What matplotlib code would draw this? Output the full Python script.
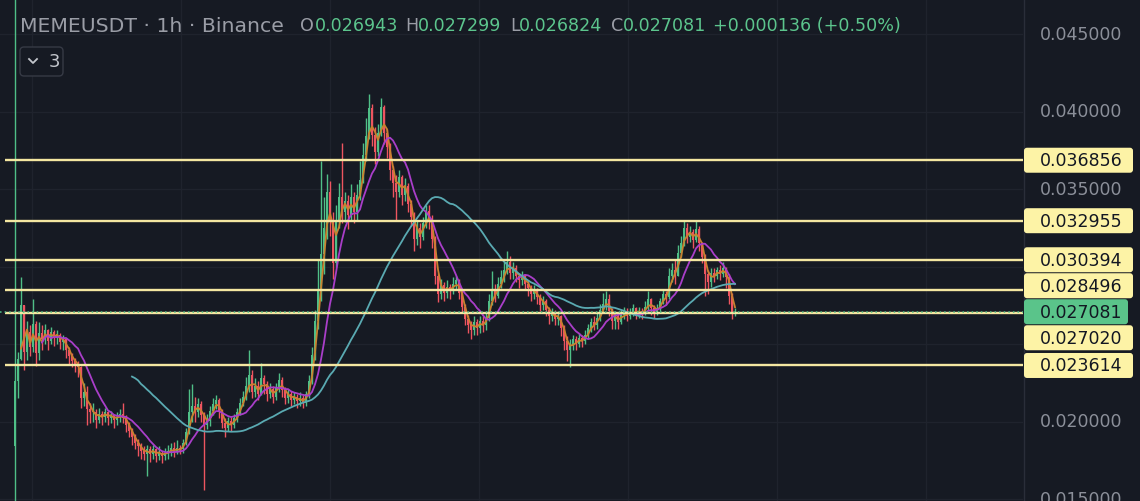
import numpy as np
import pandas as pd
import matplotlib
matplotlib.use("Agg")
import matplotlib.pyplot as plt
from matplotlib.patches import FancyBboxPatch
from matplotlib.lines import Line2D
from matplotlib.transforms import IdentityTransform

# -----------------------
# Data (prices in 0.001 USDT, one value per 1h candle)
# -----------------------
first_open = 18.4

close_m = [
    22.6, 24.0, 27.5, 24.5, 25.8, 24.8, 26.3, 24.4, 25.7, 25.3,
    25.9, 25.2, 25.8, 25.4, 25.6, 25.1, 25.3, 24.6, 24.2, 23.9,
    23.7, 23.5, 21.5, 21.9, 20.8, 20.6, 20.6, 20.1, 20.5, 20.3,
    20.6, 20.2, 20.4, 20.1, 20.3, 20.5, 20.2, 19.8, 19.4, 19.0,
    18.6, 18.4, 18.1, 17.9, 18.2, 17.9, 18.2, 17.8, 18.0, 17.8,
    18.0, 18.1, 18.3, 18.0, 18.3, 18.2, 18.6, 19.3, 20.6, 21.0,
    20.6, 21.1, 20.4, 19.8, 20.0, 20.7, 21.1, 21.4, 20.6, 19.9,
    19.6, 20.0, 19.8, 20.2, 20.6, 21.2, 21.6, 22.3, 23.0, 21.9,
    22.3, 21.8, 22.8, 22.4, 21.8, 22.1, 21.6, 22.2, 22.7, 22.0,
    21.5, 21.8, 21.4, 21.6, 21.3, 21.5, 21.2, 21.8, 22.6, 24.3,
    26.5, 28.4, 30.8, 32.5, 34.8, 33.0, 30.2, 32.9, 34.5, 33.5,
    34.2, 33.3, 34.5, 33.5, 34.6, 35.6, 37.2, 38.4, 40.2, 38.5,
    37.4, 38.6, 40.3, 38.6, 37.7, 36.2, 35.4, 34.8, 35.8, 34.6,
    35.2, 34.0, 33.2, 31.8, 32.5, 31.9, 32.8, 33.6, 33.0, 31.8,
    29.4, 28.2, 28.8, 28.3, 28.7, 28.4, 28.9, 29.1, 28.3, 27.4,
    26.6, 26.2, 25.9, 26.4, 26.0, 26.5, 26.2, 26.7, 27.8, 28.5,
    28.1, 28.9, 29.3, 29.8, 30.3, 29.6, 29.9, 29.4, 29.1, 29.4,
    28.9, 28.6, 28.2, 28.5, 28.0, 27.5, 27.8, 27.2, 26.8, 27.0,
    26.6, 26.8, 26.0, 25.2, 24.6, 24.9, 25.3, 25.0, 25.4, 25.2,
    25.6, 26.0, 26.4, 26.2, 26.7, 27.2, 27.6, 27.9, 27.1, 26.5,
    26.8, 26.4, 26.9, 27.1, 26.8, 27.0, 27.3, 26.9, 27.1, 27.0,
    27.4, 27.9, 27.3, 27.0, 27.3, 27.8, 28.2, 28.0, 29.4, 29.8,
    29.4, 30.9, 31.5, 32.5, 31.9, 32.2, 31.7, 32.4, 31.5, 30.6,
    29.5, 29.0, 29.6, 29.4, 29.8, 29.5, 29.9, 29.3, 28.1, 26.945,
    27.081,
]

high_m = [
    70.0, 24.5, 29.3, 27.5, 26.5, 26.2, 27.9, 26.5, 26.4, 26.2,
    26.3, 26.0, 26.1, 25.9, 25.9, 25.7, 25.6, 25.4, 24.8, 24.4,
    24.1, 23.9, 23.6, 22.5, 22.3, 21.2, 21.2, 20.8, 20.9, 20.7,
    20.9, 20.7, 20.7, 20.5, 20.6, 20.8, 21.2, 20.4, 20.0, 19.6,
    19.2, 18.9, 18.6, 18.4, 18.5, 18.4, 18.5, 18.3, 18.4, 18.1,
    18.3, 18.5, 18.6, 18.7, 18.8, 18.5, 18.9, 19.6, 22.1, 22.4,
    21.6, 21.5, 21.3, 20.6, 20.5, 21.0, 21.5, 21.7, 21.5, 20.8,
    20.2, 20.3, 20.3, 20.5, 20.9, 21.5, 22.0, 22.9, 24.6, 23.3,
    22.8, 22.6, 23.8, 23.0, 22.6, 22.5, 22.3, 22.5, 23.1, 22.9,
    22.2, 22.1, 22.0, 21.9, 21.8, 21.9, 21.7, 22.0, 23.0, 24.8,
    27.2, 30.5, 36.8, 34.5, 36.0, 35.5, 33.5, 34.0, 35.4, 38.0,
    34.8, 34.6, 35.3, 34.8, 35.3, 36.8, 38.0, 39.6, 41.1, 40.5,
    39.0, 39.2, 40.9, 40.4, 38.9, 38.0, 36.5, 35.9, 36.2, 35.9,
    35.7, 35.4, 34.3, 33.5, 33.0, 32.8, 33.2, 34.0, 34.0, 33.3,
    32.0, 29.6, 29.2, 29.0, 29.1, 28.9, 29.3, 29.4, 29.2, 28.5,
    27.6, 26.9, 26.5, 26.8, 26.6, 26.8, 26.8, 27.1, 28.2, 29.7,
    28.9, 29.3, 29.8, 30.3, 31.0, 30.7, 30.3, 30.1, 29.6, 29.7,
    29.5, 29.1, 28.8, 28.8, 28.6, 28.2, 28.1, 27.9, 27.4, 27.3,
    27.2, 27.1, 26.9, 26.2, 25.5, 25.3, 25.6, 25.5, 25.7, 25.6,
    25.9, 26.3, 26.7, 26.8, 27.0, 27.6, 28.3, 28.4, 28.2, 27.3,
    27.1, 27.0, 27.2, 27.4, 27.3, 27.3, 27.6, 27.4, 27.4, 27.3,
    27.8, 28.4, 28.0, 27.5, 27.6, 28.0, 28.5, 28.4, 29.9, 30.2,
    30.4, 31.4, 32.0, 32.94, 32.8, 32.6, 32.4, 32.97, 32.6, 31.6,
    30.8, 29.8, 29.9, 29.9, 30.0, 30.1, 30.3, 30.0, 29.5, 28.3,
    27.299,
]

low_m = [
    5.0, 21.5, 24.0, 23.3, 24.0, 24.2, 24.5, 23.6, 24.0, 24.6,
    25.0, 24.6, 25.0, 24.9, 25.0, 24.7, 24.6, 24.1, 23.7, 23.5,
    23.2, 22.9, 20.9, 21.0, 19.8, 19.9, 20.0, 19.6, 19.9, 19.8,
    20.0, 19.8, 19.9, 19.6, 19.8, 20.0, 19.9, 19.3, 19.0, 18.5,
    18.2, 17.8, 17.6, 17.5, 16.5, 17.4, 17.6, 17.4, 17.5, 17.3,
    17.5, 17.6, 17.8, 17.7, 17.9, 17.9, 18.0, 18.5, 19.2, 20.0,
    20.0, 20.3, 20.0, 15.6, 19.5, 19.7, 20.4, 20.8, 20.2, 19.6,
    19.0, 19.4, 19.4, 19.6, 20.0, 20.4, 21.0, 21.4, 21.9, 21.5,
    21.6, 21.4, 21.7, 21.8, 21.3, 21.5, 21.2, 21.4, 21.9, 21.6,
    21.1, 21.2, 21.0, 21.1, 20.9, 21.0, 20.9, 21.0, 21.5, 22.4,
    24.0, 26.0, 27.8, 29.5, 31.8, 32.0, 29.2, 30.0, 32.5, 32.8,
    32.9, 32.4, 33.0, 32.8, 33.0, 34.3, 35.4, 36.8, 38.2, 37.8,
    36.6, 37.1, 38.4, 37.9, 37.0, 35.6, 34.5, 33.0, 34.5, 34.0,
    34.2, 33.5, 32.6, 31.0, 31.4, 31.2, 31.7, 32.5, 32.4, 31.2,
    28.9, 27.7, 27.9, 27.8, 28.0, 27.9, 28.2, 28.5, 27.9, 27.0,
    26.2, 25.7, 25.3, 25.6, 25.6, 25.7, 25.8, 25.9, 26.5, 27.5,
    27.7, 28.0, 28.6, 29.0, 29.5, 29.2, 29.2, 29.0, 28.6, 28.8,
    28.5, 28.1, 27.8, 27.9, 27.6, 27.1, 27.2, 26.8, 26.3, 26.5,
    26.2, 26.2, 25.5, 24.6, 23.9, 23.5, 24.6, 24.6, 24.8, 24.8,
    25.0, 25.3, 25.8, 25.9, 26.0, 26.5, 27.0, 27.2, 26.8, 26.0,
    26.0, 26.0, 26.3, 26.6, 26.5, 26.6, 26.8, 26.6, 26.7, 26.6,
    26.9, 27.2, 26.9, 26.7, 26.9, 27.1, 27.6, 27.5, 27.9, 29.0,
    28.9, 29.4, 30.6, 31.3, 31.5, 31.6, 31.2, 31.6, 31.0, 30.2,
    28.1, 28.2, 28.7, 29.0, 29.2, 29.1, 29.3, 28.6, 27.6, 26.6,
    26.824,
]

levels = [0.036856, 0.032955, 0.030394, 0.028496, 0.027020, 0.023614]
last_price = 0.027081
price_ticks = [0.015, 0.020, 0.025, 0.030, 0.035, 0.040, 0.045]

ma_windows = [3, 10, 40]
ma_colors = ["#c9822f", "#a93ec9", "#5aaab2"]

header_parts = [
    ("MEMEUSDT · 1h · Binance", 20, "grey", 14.7),
    ("O", 300, "grey", 12.6), ("0.026943", 315, "green", 12.6),
    ("H", 405, "grey", 12.6), ("0.027299", 418, "green", 12.6),
    ("L", 510, "grey", 12.6), ("0.026824", 519, "green", 12.6),
    ("C", 611, "grey", 12.6), ("0.027081", 623, "green", 12.6),
    ("+0.000136 (+0.50%)", 713, "green", 12.6),
]

# -----------------------
# Style
# -----------------------
BG = "#161a23"
GRID = "#1f232d"
UP = "#4fbf87"
DOWN = "#ee5560"
LEVEL = "#f4e7a1"
LABEL_BG = "#fdf3a6"
TEXT_GREY = "#9a9da6"
TEXT_GREEN = "#5cc58d"
W, H = 1140, 502

close = np.array(close_m) / 1000
high = np.array(high_m) / 1000
low = np.array(low_m) / 1000
opens = np.r_[first_open / 1000, close[:-1]]
high = np.maximum(high, np.maximum(opens, close))
low = np.minimum(low, np.minimum(opens, close))
idx = np.arange(len(close))

fig = plt.figure(figsize=(W / 100, H / 100), dpi=100, facecolor=BG)
ax = fig.add_axes([0, 0, 1023 / W, 1])
ax.set_facecolor(BG)
ax.set_xlim(-5, 336)
ax.set_ylim(0.045 - 467 / 15500, 0.045 + 35 / 15500)
for s in ax.spines.values():
    s.set_visible(False)
ax.set_xticks([])
ax.set_yticks([])

# grid
for v in price_ticks:
    ax.axhline(v, color=GRID, lw=1, zorder=0)
for gx in np.arange(5.67, 336, 49.67):
    ax.axvline(gx, color=GRID, lw=1, zorder=0)

# candles
cols = np.where(close >= opens, UP, DOWN)
ax.vlines(idx, low, high, colors=cols, lw=1, zorder=2)
body = np.maximum(np.abs(close - opens), 0.00007)
ax.bar(idx, body, bottom=np.minimum(opens, close), width=0.72,
       color=cols, lw=0, zorder=3)

# moving averages
s = pd.Series(close)
for win, c in zip(ma_windows, ma_colors):
    ax.plot(idx, s.rolling(win).mean(), color=c, lw=1.3, zorder=4)

# horizontal levels
ax.hlines(levels, -3.3, 336, colors=LEVEL, lw=1.7, zorder=5)
ax.axhline(last_price, color=UP, lw=1.1, ls=(0, (1, 2)), zorder=6)

# price scale
fig.add_artist(Line2D([1023.5 / W] * 2, [0, 1], color="#2a2e39", lw=1))


def ypix(v):
    return ax.transData.transform((0, v))[1]


# level labels, pushed apart around the last price label
box_h = 26
lp = ypix(last_price)
above = sorted([v for v in levels if v > last_price])
below = sorted([v for v in levels if v <= last_price], reverse=True)
placed = []
limit = lp + box_h / 2
for v in above:
    c = max(ypix(v), limit + box_h / 2)
    placed.append((v, c))
    limit = c + box_h / 2
limit = lp - box_h / 2
for v in below:
    c = min(ypix(v), limit - box_h / 2)
    placed.append((v, c))
    limit = c - box_h / 2

# tick labels that are not hidden behind a label box
centers = [c for _, c in placed] + [lp]
for v in price_ticks:
    yp = ypix(v)
    if any(abs(yp - c) < box_h / 2 + 4 for c in centers):
        continue
    fig.text(1040 / W, yp / H, f"{v:.6f}", color="#8b8f99",
             fontsize=12.5, va="center", ha="left", zorder=1)

for v, c in placed:
    fig.add_artist(FancyBboxPatch((1024, c - box_h / 2 + 0.5), 109, box_h - 1,
                                  boxstyle="round,pad=0,rounding_size=3",
                                  fc=LABEL_BG, ec="none",
                                  transform=IdentityTransform(), zorder=5))
    fig.text(1040 / W, c / H, f"{v:.6f}", color="#131722", fontsize=12.5,
             va="center", ha="left", zorder=6)

fig.add_artist(FancyBboxPatch((1024, lp - box_h / 2 + 0.5), 104, box_h - 1,
                              boxstyle="round,pad=0,rounding_size=3",
                              fc="#5ac48a", ec="none",
                              transform=IdentityTransform(), zorder=5))
fig.text(1040 / W, lp / H, f"{last_price:.6f}", color="#131722",
         fontsize=12.5, va="center", ha="left", zorder=6)

# header
for txt, x, kind, fs in header_parts:
    fig.text(x / W, 1 - 26 / H, txt, fontsize=fs, va="center", ha="left",
             color=TEXT_GREY if kind == "grey" else TEXT_GREEN)

# indicators toggle button
fig.add_artist(FancyBboxPatch((20, H - 77), 43, 29,
                              boxstyle="round,pad=0,rounding_size=4",
                              fc=BG, ec="#363a45", lw=1,
                              transform=IdentityTransform()))
fig.add_artist(Line2D([29, 33, 37], [H - 60, H - 64, H - 60], color="#c3c6cc",
                      lw=1.3, transform=IdentityTransform()))
fig.text(49 / W, 1 - 62 / H, "3", fontsize=13, color="#c3c6cc",
         va="center", ha="left")

fig.savefig("out.png", dpi=100, facecolor=BG)
